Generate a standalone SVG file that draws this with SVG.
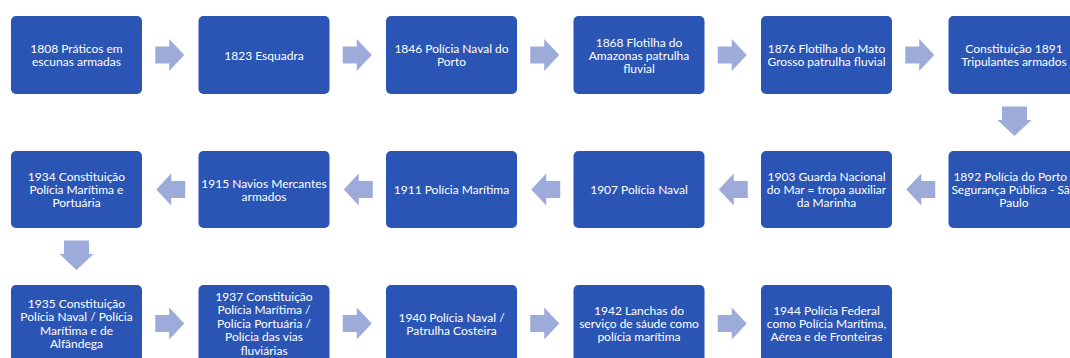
<svg xmlns="http://www.w3.org/2000/svg" width="1070" height="358" viewBox="0 0 1070 358">
<style>
.box{fill:#2A55B4;}
.t{font-family:Lato,"Liberation Sans",sans-serif;font-size:12px;fill:#FFFFFF;text-anchor:middle;}
.arr{fill:#9DABDB;}
</style>
<defs>
<path id="ar" d="M-15,-8.5 H-1 V-16 L14,0 L-1,16 V8.5 H-15 Z"/>
<path id="ad" d="M-12.5,-16 H12.5 V-2.5 H17 L0,13.5 L-17,-2.5 H-12.5 Z"/>
</defs>
<rect width="1070" height="358" fill="#FFFFFF"/>
<g id="connectors" class="arr">
<use href="#ar" x="170.25" y="55"/>
<use href="#ar" x="357.75" y="55"/>
<use href="#ar" x="545.25" y="55"/>
<use href="#ar" x="732.75" y="55"/>
<use href="#ar" x="920.25" y="55"/>
<use href="#ad" x="1014.5" y="122.5"/>
<use href="#ar" transform="translate(920.25,189.5) scale(-1,1)"/>
<use href="#ar" transform="translate(732.75,189.5) scale(-1,1)"/>
<use href="#ar" transform="translate(545.25,189.5) scale(-1,1)"/>
<use href="#ar" transform="translate(357.75,189.5) scale(-1,1)"/>
<use href="#ar" transform="translate(170.25,189.5) scale(-1,1)"/>
<use href="#ad" x="76.5" y="256.5"/>
<use href="#ar" x="170.25" y="323.5"/>
<use href="#ar" x="357.75" y="323.5"/>
<use href="#ar" x="545.25" y="323.5"/>
<use href="#ar" x="732.75" y="323.5"/>
</g>
<g id="n1808"><rect class="box" x="11" y="16" width="131" height="78" rx="5"/><text class="t" x="76.5" y="53">1808 Práticos em</text><text class="t" x="76.5" y="66">escunas armadas</text></g>
<g id="n1823"><rect class="box" x="198.5" y="16" width="131" height="78" rx="5"/><text class="t" x="264" y="59.5">1823 Esquadra</text></g>
<g id="n1846"><rect class="box" x="386" y="16" width="131" height="78" rx="5"/><text class="t" x="451.5" y="53">1846 Polícia Naval do</text><text class="t" x="451.5" y="66">Porto</text></g>
<g id="n1868"><rect class="box" x="573.5" y="16" width="131" height="78" rx="5"/><text class="t" x="639" y="46.5">1868 Flotilha do</text><text class="t" x="639" y="59.5">Amazonas patrulha</text><text class="t" x="639" y="72.5">fluvial</text></g>
<g id="n1876"><rect class="box" x="761" y="16" width="131" height="78" rx="5"/><text class="t" x="826.5" y="53">1876 Flotilha do Mato</text><text class="t" x="826.5" y="66">Grosso patrulha fluvial</text></g>
<g id="n1891"><rect class="box" x="948.5" y="16" width="131" height="78" rx="5"/><text class="t" x="1014" y="53">Constituição 1891</text><text class="t" x="1014" y="66">Tripulantes armados</text></g>
<g id="n1892"><rect class="box" x="948.5" y="151" width="131" height="77" rx="5"/><text class="t" x="1014" y="181">1892 Polícia do Porto -</text><text class="t" x="1014" y="194">Segurança Pública - São</text><text class="t" x="1014" y="207">Paulo</text></g>
<g id="n1903"><rect class="box" x="761" y="151" width="131" height="77" rx="5"/><text class="t" x="826.5" y="181">1903 Guarda Nacional</text><text class="t" x="826.5" y="194">do Mar = tropa auxiliar</text><text class="t" x="826.5" y="207">da Marinha</text></g>
<g id="n1907"><rect class="box" x="573.5" y="151" width="131" height="77" rx="5"/><text class="t" x="639" y="194">1907 Polícia Naval</text></g>
<g id="n1911"><rect class="box" x="386" y="151" width="131" height="77" rx="5"/><text class="t" x="451.5" y="194">1911 Polícia Marítima</text></g>
<g id="n1915"><rect class="box" x="198.5" y="151" width="131" height="77" rx="5"/><text class="t" x="264" y="187.5">1915 Navios Mercantes</text><text class="t" x="264" y="200.5">armados</text></g>
<g id="n1934"><rect class="box" x="11" y="151" width="131" height="77" rx="5"/><text class="t" x="76.5" y="181">1934 Constituição</text><text class="t" x="76.5" y="194">Polícia Marítima e</text><text class="t" x="76.5" y="207">Portuária</text></g>
<g id="n1935"><rect class="box" x="11" y="285" width="131" height="78" rx="5"/><text class="t" x="76.5" y="307.5">1935 Constituição</text><text class="t" x="76.5" y="321">Polícia Naval / Polícia</text><text class="t" x="76.5" y="334.5">Marítima e de</text><text class="t" x="76.5" y="348">Alfândega</text></g>
<g id="n1937"><rect class="box" x="198.5" y="285" width="131" height="78" rx="5"/><text class="t" x="264" y="300.5">1937 Constituição</text><text class="t" x="264" y="314">Polícia Marítima /</text><text class="t" x="264" y="327.5">Polícia Portuária /</text><text class="t" x="264" y="341">Polícia das vias</text><text class="t" x="264" y="354.5">fluviárias</text></g>
<g id="n1940"><rect class="box" x="386" y="285" width="131" height="78" rx="5"/><text class="t" x="451.5" y="321.5">1940 Polícia Naval /</text><text class="t" x="451.5" y="334.5">Patrulha Costeira</text></g>
<g id="n1942"><rect class="box" x="573.5" y="285" width="131" height="78" rx="5"/><text class="t" x="639" y="315">1942 Lanchas do</text><text class="t" x="639" y="328">serviço de sáude como</text><text class="t" x="639" y="341">polícia marítima</text></g>
<g id="n1944"><rect class="box" x="761" y="285" width="131" height="78" rx="5"/><text class="t" x="826.5" y="315">1944 Polícia Federal</text><text class="t" x="826.5" y="328">como Polícia Marítima,</text><text class="t" x="826.5" y="341">Aérea e de Fronteiras</text></g>
</svg>
